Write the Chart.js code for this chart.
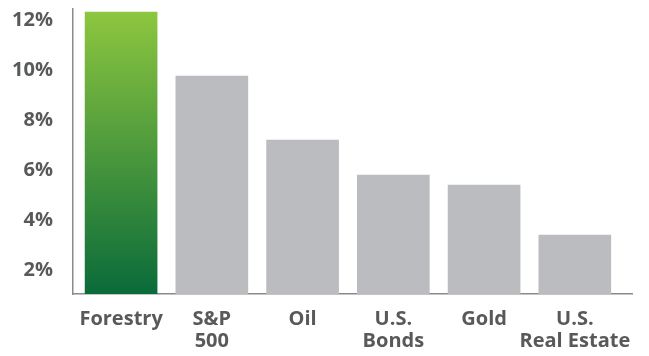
<!DOCTYPE html>
<html><head><meta charset="utf-8">
<script src="https://cdn.jsdelivr.net/npm/chart.js@4"></script>
<style>html,body{margin:0;padding:0;background:#fff}#wrap{width:649px;height:356px}</style>
</head><body><div id="wrap"><canvas id="c" width="649" height="356"></canvas></div>
<script>
const categories = [["Forestry"], ["S&P", "500"], ["Oil"], ["U.S.", "Bonds"], ["Gold"], ["U.S.", "Real Estate"]];
const returns = [12.32, 9.76, 7.2, 5.8, 5.4, 3.4];
const yTicks = [2, 4, 6, 8, 10, 12];

const textColor = '#58595B';
const axisColor = '#8a8a8c';
const font = {family: '"Open Sans", sans-serif', weight: 'bold', size: 20};

function barColor(ctx) {
  if (ctx.dataIndex !== 0) return '#BBBCC0';
  const chart = ctx.chart;
  const area = chart.chartArea;
  if (!area) return '#4a9a3f';
  const y = chart.scales.y;
  const top = y.getPixelForValue(returns[0]);
  const bottom = area.bottom;
  const g = chart.ctx.createLinearGradient(0, top, 0, bottom);
  g.addColorStop(0, '#8DC63F');
  g.addColorStop(1, '#0A6B3A');
  return g;
}
function zeroPad(s) { s.paddingLeft = 0; s.paddingRight = 0; s.paddingTop = 0; s.paddingBottom = 0; }

new Chart(document.getElementById('c'), {
  type: 'bar',
  data: {
    datasets: [{
      data: returns.map((v, i) => ({x: i, y: v})),
      backgroundColor: barColor,
      borderWidth: 0,
      barThickness: 72
    }]
  },
  options: {
    responsive: false,
    animation: false,
    layout: {padding: {top: 9, right: 17, left: 0, bottom: 0}},
    plugins: {legend: {display: false}, tooltip: {enabled: false}},
    scales: {
      x: {
        type: 'linear',
        offset: false,
        min: -0.53,
        max: 5.63,
        grid: {display: false, drawTicks: false, offset: false},
        border: {display: true, color: axisColor, width: 1.5},
        afterBuildTicks: (s) => { s.ticks = categories.map((c, i) => ({value: i})); },
        afterFit: (s) => { s.height = 62; zeroPad(s); },
        ticks: {
          autoSkip: false,
          maxRotation: 0,
          padding: 14,
          color: textColor,
          font: {...font, lineHeight: 1.1},
          callback: (v) => categories[v]
        }
      },
      y: {
        min: 1.04,
        max: 12.44,
        grid: {display: false, drawTicks: false},
        border: {display: true, color: axisColor, width: 1.5},
        afterBuildTicks: (s) => { s.ticks = yTicks.map(v => ({value: v})); },
        afterFit: (s) => { s.width = 73; zeroPad(s); },
        ticks: {
          padding: 20,
          color: textColor,
          font: font,
          callback: (v) => v + '%'
        }
      }
    }
  }
});
</script>
</body></html>
